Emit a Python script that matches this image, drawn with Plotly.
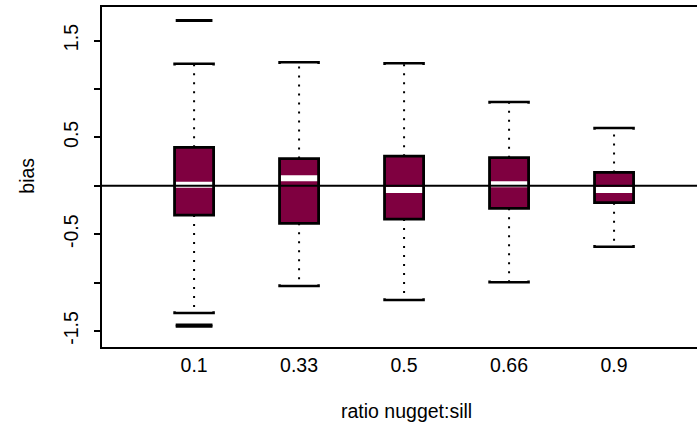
import plotly.graph_objects as go

# ---- data ----
categories = ["0.1", "0.33", "0.5", "0.66", "0.9"]
upper_whisker = [1.260, 1.275, 1.265, 0.865, 0.595]
q3 = [0.397, 0.280, 0.305, 0.290, 0.137]
median = [0.010, 0.078, -0.045, 0.016, -0.045]
q1 = [-0.303, -0.389, -0.345, -0.234, -0.175]
lower_whisker = [-1.316, -1.035, -1.180, -0.997, -0.630]
outlier_group = [0, 0, 0]
outlier_value = [1.706, -1.438, -1.452]

y_tick_vals = [-1.5, -1.0, -0.5, 0.0, 0.5, 1.0, 1.5]
y_tick_text = ["-1.5", "", "-0.5", "", "0.5", "", "1.5"]

# ---- style ----
FILL = "#7F0040"
FONT = "Liberation Sans, Arial, sans-serif"
FS = 19.5
HALF = 0.186      # half box width in x units
OHALF = 0.175     # half outlier dash width
HOOK = 0.018      # staple end hook (y units)

positions = list(range(1, len(categories) + 1))

fig = go.Figure()
shapes = []

for i, x in enumerate(positions):
    # whiskers (dotted)
    for y0, y1 in ((q3[i], upper_whisker[i]), (q1[i], lower_whisker[i])):
        fig.add_trace(go.Scatter(
            x=[x, x], y=[y0, y1], mode="lines",
            line=dict(color="black", width=2, dash="2px,7px"),
            hoverinfo="skip", showlegend=False))
    # staples with small hooks pointing toward the box
    for yv, sgn in ((upper_whisker[i], -1), (lower_whisker[i], 1)):
        fig.add_trace(go.Scatter(
            x=[x - HALF, x - HALF, x + HALF, x + HALF],
            y=[yv + sgn * HOOK, yv, yv, yv + sgn * HOOK], mode="lines",
            line=dict(color="black", width=2.5),
            hoverinfo="skip", showlegend=False))
    # box fill
    shapes.append(dict(type="rect", xref="x", yref="y",
                       x0=x - HALF, x1=x + HALF, y0=q1[i], y1=q3[i],
                       fillcolor=FILL, line=dict(width=0), layer="above"))
    # median (white)
    shapes.append(dict(type="line", xref="x", yref="y",
                       x0=x - HALF, x1=x + HALF, y0=median[i], y1=median[i],
                       line=dict(color="white", width=6), layer="above"))
    # box border
    shapes.append(dict(type="rect", xref="x", yref="y",
                       x0=x - HALF, x1=x + HALF, y0=q1[i], y1=q3[i],
                       fillcolor="rgba(0,0,0,0)",
                       line=dict(color="black", width=2.8), layer="above"))

# outliers as short thick dashes
for g, v in zip(outlier_group, outlier_value):
    x = positions[g]
    fig.add_trace(go.Scatter(
        x=[x - OHALF, x + OHALF], y=[v, v], mode="lines",
        line=dict(color="black", width=3),
        hoverinfo="skip", showlegend=False))

# horizontal reference line at 0 (drawn on top)
shapes.append(dict(type="line", xref="paper", yref="y", x0=0, x1=1, y0=0, y1=0,
                   line=dict(color="black", width=2), layer="above"))

fig.update_layout(
    width=697, height=434,
    margin=dict(l=102, r=0, t=7, b=87),
    paper_bgcolor="white", plot_bgcolor="white",
    font=dict(family=FONT, size=FS, color="black"),
    shapes=shapes,
    showlegend=False,
    xaxis=dict(range=[0.123, 5.79], tickmode="array", tickvals=positions,
               ticktext=categories, ticks="", showgrid=False, zeroline=False,
               showline=True, linecolor="black", linewidth=2, mirror=True,
               tickfont=dict(family=FONT, size=FS, color="black")),
    yaxis=dict(range=[-1.666, 1.846], tickmode="array", tickvals=y_tick_vals,
               ticktext=y_tick_text, ticks="outside", ticklen=6, tickwidth=2,
               tickcolor="black", tickangle=-90, ticklabelstandoff=8,
               showgrid=False, zeroline=False,
               showline=True, linecolor="black", linewidth=2,
               tickfont=dict(family=FONT, size=FS, color="black")),
    annotations=[
        dict(text="ratio nugget:sill", xref="x", yref="paper", x=3.02, y=-0.188,
             xanchor="center", yanchor="middle", showarrow=False,
             font=dict(family=FONT, size=FS, color="black")),
        dict(text="bias", xref="paper", yref="paper", x=-0.1266, y=0.503,
             xanchor="center", yanchor="middle", textangle=-90, showarrow=False,
             font=dict(family=FONT, size=FS, color="black")),
    ],
)

fig.write_html("out.html")
